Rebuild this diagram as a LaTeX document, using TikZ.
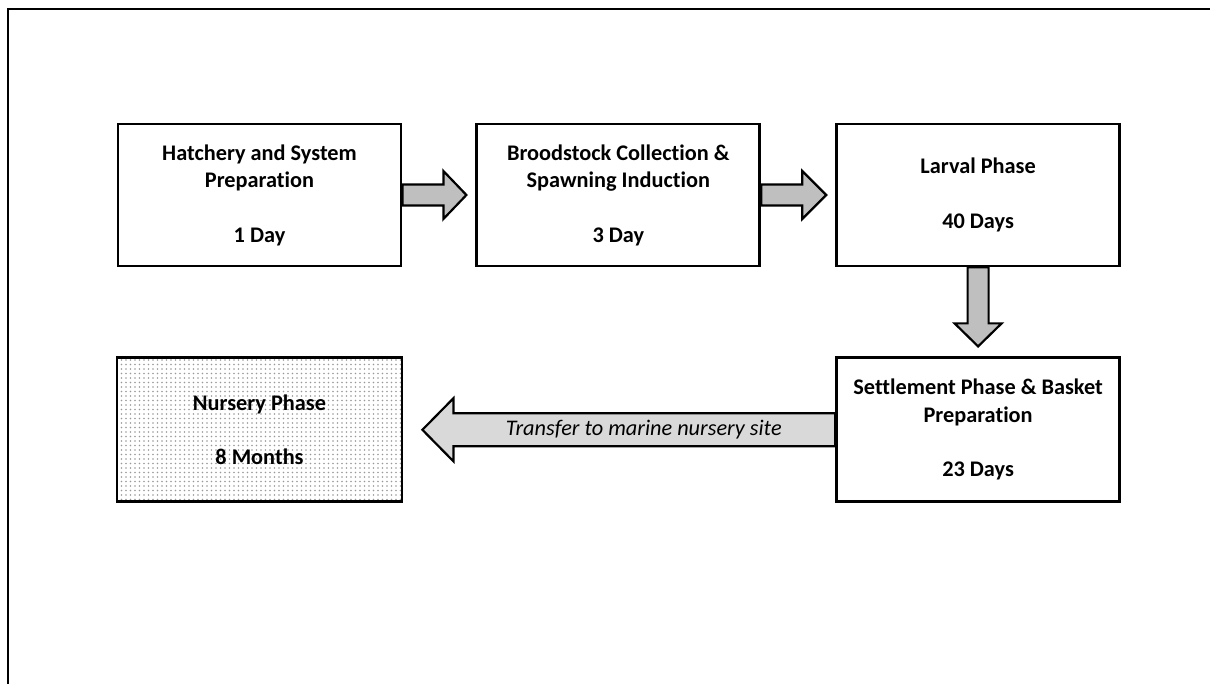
\documentclass[tikz,border=0pt]{standalone}
\usepackage{fontspec}
\setmainfont[Ligatures=NoCommon]{Carlito}
\usepackage{tikz}
\usetikzlibrary{calc}
\usetikzlibrary{positioning}
\usetikzlibrary{patterns.meta}

\tikzset{
    stage/.style={draw, line width=2.8pt, minimum width=283pt, minimum height=142pt,
        inner sep=0pt, align=center, font=\fontsize{22.3}{27.3}\selectfont\bfseries},
    pipe/.style={draw, line width=2.2pt, line join=miter, fill=gray!50},
}

\begin{document}
\begin{tikzpicture}[x=1pt,y=-1pt]
    \useasboundingbox (0,0) rectangle (1210,684);
    % outer frame
    \coordinate (fa) at (8,684);
    \coordinate (fb) at (8,9);
    \coordinate (fc) at (1210,9);
    \draw[line width=2.2pt] (fa) -- (fb) -- (fc);

    % top row
    \node[stage] (hatch) at (259.5,195) {Hatchery and System\\Preparation\\[\baselineskip]1 Day};
    \node[stage, right=73pt of hatch] (brood) {Broodstock Collection \&\\Spawning Induction\\[\baselineskip]3 Day};
    \node[stage, right=74pt of brood] (larval) {Larval Phase\\[\baselineskip]40 Days};

    % bottom row
    \node[stage, minimum height=144pt, below=89pt of larval] (settle) {Settlement Phase \& Basket\\Preparation\\[\baselineskip]23 Days};
    \node[stage, minimum height=144pt, below=89pt of hatch, minimum width=285pt,
        pattern={Dots[distance=4.5pt,radius=0.8pt]}, pattern color=gray!80] (nursery) {Nursery Phase\\[\baselineskip]8 Months};

    % arrows between stages
    \draw[pipe] ($(hatch.east)+(0,-10.5)$) -- ++(41,0) -- ++(0,-13.5) -- ($(brood.west)+(-9,0)$)
        -- ($(hatch.east)+(41,24)$) -- ++(0,-13.5) -- ($(hatch.east)+(0,10.5)$) -- cycle;
    \draw[pipe] ($(brood.east)+(0,-10.5)$) -- ++(41,0) -- ++(0,-13.5) -- ($(larval.west)+(-9,0)$)
        -- ($(brood.east)+(41,24)$) -- ++(0,-13.5) -- ($(brood.east)+(0,10.5)$) -- cycle;
    \draw[pipe] ($(larval.south)+(-10.5,0)$) -- ++(0,56) -- ++(-13,0) -- ($(settle.north)+(0,-10)$)
        -- ($(larval.south)+(23.5,56)$) -- ++(-13,0) -- ($(larval.south)+(10.5,0)$) -- cycle;
    \draw[pipe, fill=gray!30] ($(settle.west)+(0,-16.5)$) -- ($(nursery.east)+(50,-16.5)$) -- ++(0,-15)
        -- ($(nursery.east)+(19,0)$) -- ($(nursery.east)+(50,31.5)$) -- ++(0,-15)
        -- ($(settle.west)+(0,16.5)$) -- cycle;
    \node[font=\fontsize{22.3}{26}\selectfont\itshape] (move) at ($(settle.west)+(-191.5,0)$) {Transfer to marine nursery site};
\end{tikzpicture}
\end{document}
